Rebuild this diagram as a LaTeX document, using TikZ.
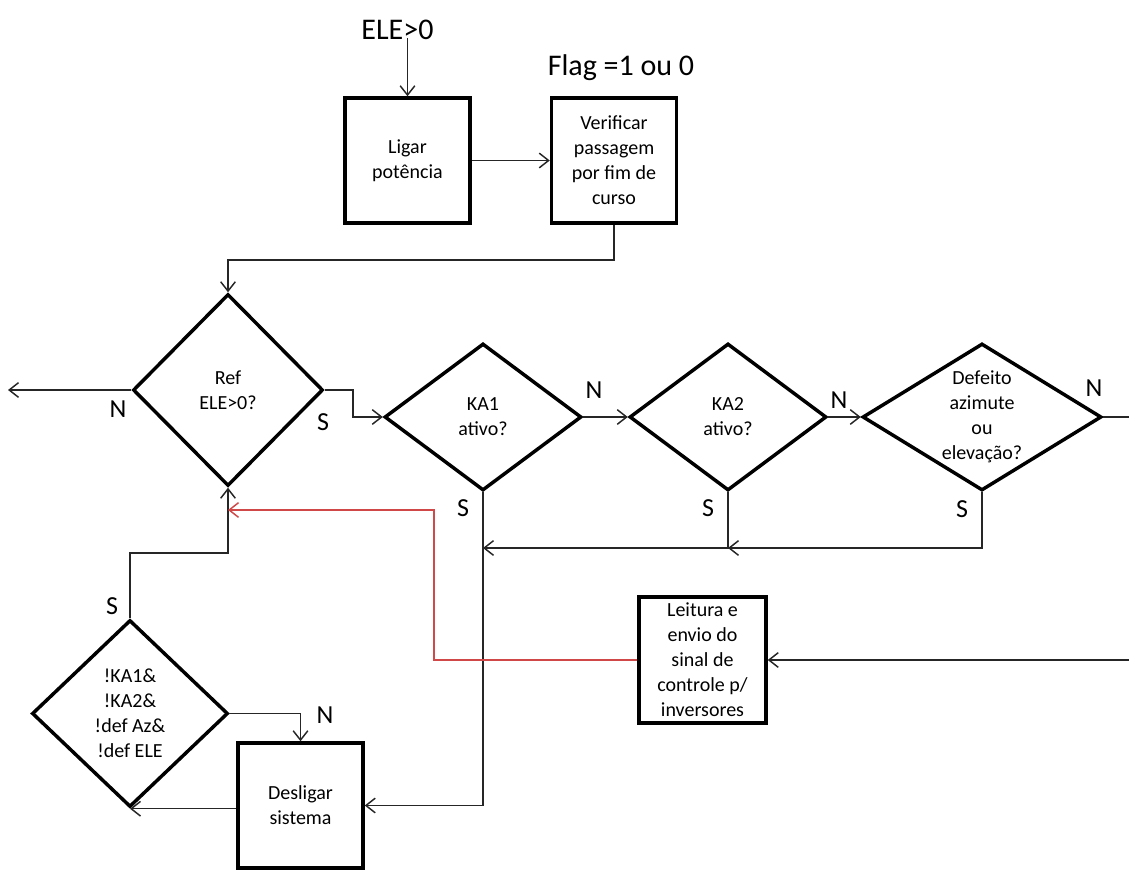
\documentclass[tikz,border=0pt]{standalone}
\usepackage{fontspec}
\setmainfont{Carlito}
\usetikzlibrary{shapes.geometric,arrows.meta}
\definecolor{redline}{RGB}{208,72,72}
\begin{document}
\begin{tikzpicture}[x=0.75pt,y=-0.75pt,
  conn/.style={line width=1.1pt,draw=black!85},
  arr/.style={conn,-{Straight Barb[length=7pt,width=11pt]}},
  redarr/.style={line width=1.1pt,draw=redline,-{Straight Barb[length=7pt,width=11pt]}},
  boxnode/.style={draw,line width=2.6pt,minimum width=125*0.75pt,minimum height=125*0.75pt,inner sep=0pt},
  dia/.style={draw,diamond,line width=2.6pt,inner sep=0pt},
  txt/.style={font=\fontsize{15}{18.75}\selectfont,align=center,inner sep=0pt},
  lab/.style={font=\fontsize{19.5}{22}\selectfont,anchor=base,inner sep=0pt},
  big/.style={font=\fontsize{22.5}{26}\selectfont,anchor=base,inner sep=0pt}]
\useasboundingbox (0,0) rectangle (1129,878);

% top
\node[big] (ele) at (397.5,40) {ELE>0};
\node[big] (flag) at (621,75) {Flag =1 ou 0};
\node[boxnode] (lig) at (407.5,160.5) {};
\node[txt] (ligt) at (lig.center) {Ligar\\potência};
\node[boxnode] (ver) at (614,160.5) {};
\node[txt] (vert) at (ver.center) {Verificar\\passagem\\por fim de\\curso};

% diamonds
\node[dia,minimum width=190*0.75pt,minimum height=192*0.75pt] (ref) at (228,390) {};
\node[txt] (reft) at (ref.center) {Ref\\ELE>0?};
\node[dia,minimum width=197*0.75pt,minimum height=147*0.75pt] (ka1) at (483,417) {};
\node[txt] (ka1t) at (ka1.center) {KA1\\ativo?};
\node[dia,minimum width=197*0.75pt,minimum height=147*0.75pt] (ka2) at (728,417) {};
\node[txt] (ka2t) at (ka2.center) {KA2\\ativo?};
\node[dia,minimum width=239*0.75pt,minimum height=147*0.75pt] (def) at (982,417) {};
\node[txt] (deft) at (def.center) {Defeito\\azimute\\ou\\elevação?};
\node[dia,minimum width=196*0.75pt,minimum height=187*0.75pt] (chk) at (130,713.5) {};
\node[txt] (chkt) at (chk.center) {!KA1\&\\!KA2\&\\!def Az\&\\!def ELE};

% lower boxes
\node[boxnode] (des) at (300.5,805.5) {};
\node[txt] (dest) at (des.center) {Desligar\\sistema};
\node[boxnode,minimum width=127*0.75pt,minimum height=126*0.75pt] (lei) at (702.5,660) {};
\node[txt] (leit) at (lei.center) {Leitura e\\envio do\\sinal de\\controle p/\\inversores};

% labels
\node[lab] (n1) at (118,417) {N};
\node[lab] (s1) at (323,430) {S};
\node[lab] (n2) at (594,398) {N};
\node[lab] (n3) at (839,408) {N};
\node[lab] (n4) at (1094,396) {N};
\node[lab] (s2) at (463,516) {S};
\node[lab] (s3) at (708,516) {S};
\node[lab] (s4) at (962,517) {S};
\node[lab] (s5) at (112,614) {S};
\node[lab] (n5) at (325,723) {N};

% coordinates
\coordinate (ein) at (407.5,38);
\coordinate (vj) at (614,260);
\coordinate (outL) at (8,390);
\coordinate (j1) at (353,417);
\coordinate (outR) at (1129,417);
\coordinate (m1) at (483,548);
\coordinate (m2) at (728,548);
\coordinate (k1) at (130,553);
\coordinate (rc) at (434,510);
\coordinate (redend) at (228,510);
\coordinate (inR) at (1129,660);

% connectors
\draw[arr] (ein) -- (lig.north);
\draw[arr] (lig.east) -- (ver.west);
\draw[arr] (ver.south) -- (vj) -| (ref.north);
\draw[arr] (ref.west) -- (outL);
\draw[arr] (ref.east) -| (j1) -- (ka1.west);
\draw[arr] (ka1.east) -- (ka2.west);
\draw[arr] (ka2.east) -- (def.west);
\draw[conn] (def.east) -- (outR);
\draw[arr] (ka2.south) |- (m1);
\draw[arr] (def.south) |- (m2);
\draw[arr] (ka1.south) |- (des.east);
\draw[arr] (chk.east) -| (des.north);
\draw[arr] (des.west |- chk.south) -- (chk.south);
\draw[arr] (chk.north) -- (k1) -| (ref.south);
\draw[redarr] (lei.west) -| (rc) -- (redend);
\draw[arr] (inR) -- (lei.east);
\end{tikzpicture}
\end{document}
